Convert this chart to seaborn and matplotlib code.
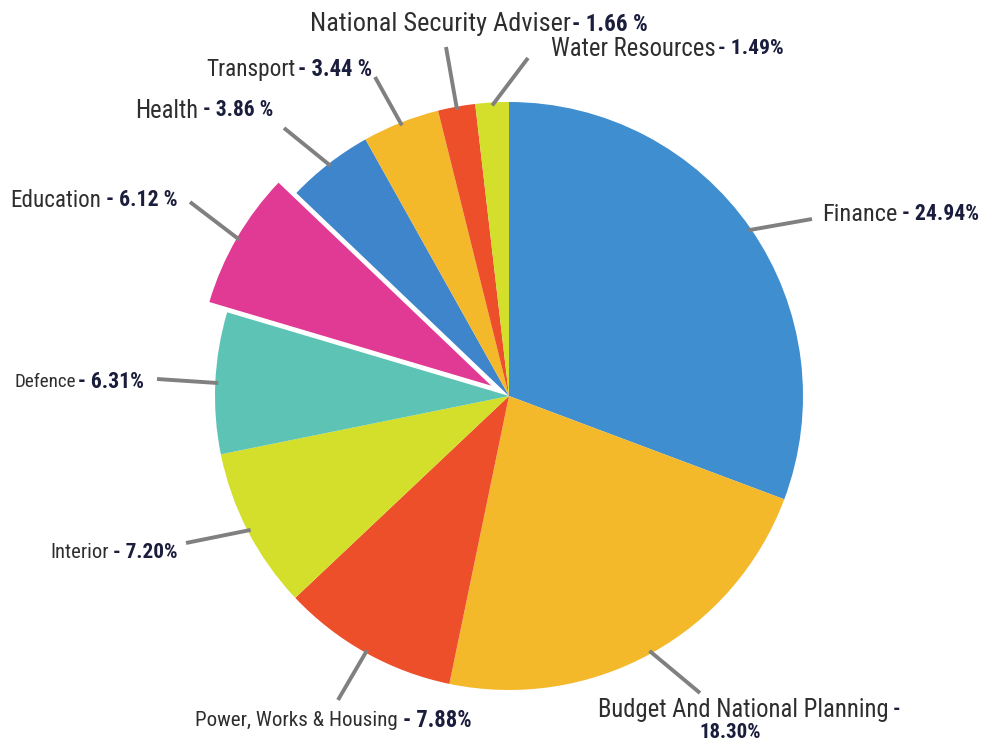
import numpy as np
import matplotlib
matplotlib.use("Agg")
import matplotlib.pyplot as plt
from matplotlib import font_manager
import seaborn as sns

# Share of budget by ministry (percent)
departments = ["Finance", "Budget And National Planning", "Power, Works & Housing",
               "Interior", "Defence", "Education", "Health", "Transport",
               "National Security Adviser", "Water Resources"]
shares = [24.94, 18.30, 7.88, 7.20, 6.31, 6.12, 3.86, 3.44, 1.66, 1.49]
pct_space = ["", "", "", "", "", " ", " ", " ", " ", ""]

# Styling
slice_colors = ["#3F8ED0", "#F4B82B", "#EE4F2B", "#D3DF2A", "#5CC3B5",
                "#E03A94", "#3E85CB", "#F4B82B", "#EE4F2B", "#D3DF2A"]
explode_frac = [0, 0, 0, 0, 0, 0.07, 0, 0, 0, 0]

# Label layout in pixels from the top-left corner
name_pos = [(822, 212), (598, 707), (195, 718), (50, 550), (15, 380),
            (10, 198), (135, 108), (206, 67), (310, 22), (551, 47)]
name_width = [75, 290, 203, 58, 61, 90, 63, 89, 258, 163]
value_x = [902, 893, 403, 113, 78, 106, 203, 298, 572, 718]
value_width = [78, 62, 69, 65, 67, 72, 71, 75, 76, 66]
leader_end = [(812, 219), (700, 693), (338, 700), (186, 543), (157, 379),
              (190, 202), (284, 128), (375, 77), (446, 47), (528, 58)]

W, H = 986, 744
NAME_COLOR = "#2e2e2e"
VALUE_COLOR = "#1b1d3d"

sns.set_theme(style="white")


def pick_font(cands):
    for c in cands:
        try:
            font_manager.findfont(font_manager.FontProperties(family=c),
                                  fallback_to_default=False)
            return c
        except Exception:
            continue
    return "DejaVu Sans"


font = pick_font(["Liberation Sans Narrow", "Roboto Condensed",
                  "Open Sans Condensed", "Roboto", "Liberation Sans"])
plt.rcParams["font.family"] = [font, "DejaVu Sans"]

fig = plt.figure(figsize=(W / 100, H / 100), dpi=100)
ax = fig.add_axes([0, 0, 1, 1])

cx, cy, R = 509, H - 396, 294
wedges, _ = ax.pie(shares, colors=sns.color_palette(slice_colors),
                   explode=[e * R for e in explode_frac],
                   startangle=90, counterclock=False, center=(cx, cy), radius=R,
                   wedgeprops=dict(linewidth=0))
ax.set_xlim(0, W)
ax.set_ylim(0, H)
ax.set_aspect("equal")
ax.axis("off")

renderer = fig.canvas.get_renderer()


def fitted_text(x, y, s, width, **kw):
    t = ax.text(x, y, s, fontsize=10, **kw)
    w = t.get_window_extent(renderer).width
    t.set_fontsize(10 * width / w)
    return t


for i, name in enumerate(departments):
    # leader line from the rim at the middle of the slice
    w = wedges[i]
    mid = np.deg2rad((w.theta1 + w.theta2) / 2)
    x0 = w.center[0] + R * 0.99 * np.cos(mid)
    y0 = w.center[1] + R * 0.99 * np.sin(mid)
    ex, ey = leader_end[i]
    ax.plot([x0, ex], [y0, H - ey], color="#808080", lw=2.8,
            solid_capstyle="butt", zorder=1)

    lx, ly = name_pos[i]
    fitted_text(lx, H - ly, name, name_width[i], color=NAME_COLOR,
                ha="left", va="center_baseline")
    pct = f"{shares[i]:.2f}{pct_space[i]}%"
    if i == 1:
        t = fitted_text(699, H - 730, pct, value_width[i], color=VALUE_COLOR,
                        fontweight="bold", ha="left", va="center_baseline")
        ax.text(value_x[i], H - ly, "-", fontsize=t.get_fontsize(),
                color=VALUE_COLOR, fontweight="bold", ha="left",
                va="center_baseline")
    else:
        fitted_text(value_x[i], H - ly, "- " + pct, value_width[i],
                    color=VALUE_COLOR, fontweight="bold", ha="left",
                    va="center_baseline")

fig.savefig("out.png", dpi=100)
